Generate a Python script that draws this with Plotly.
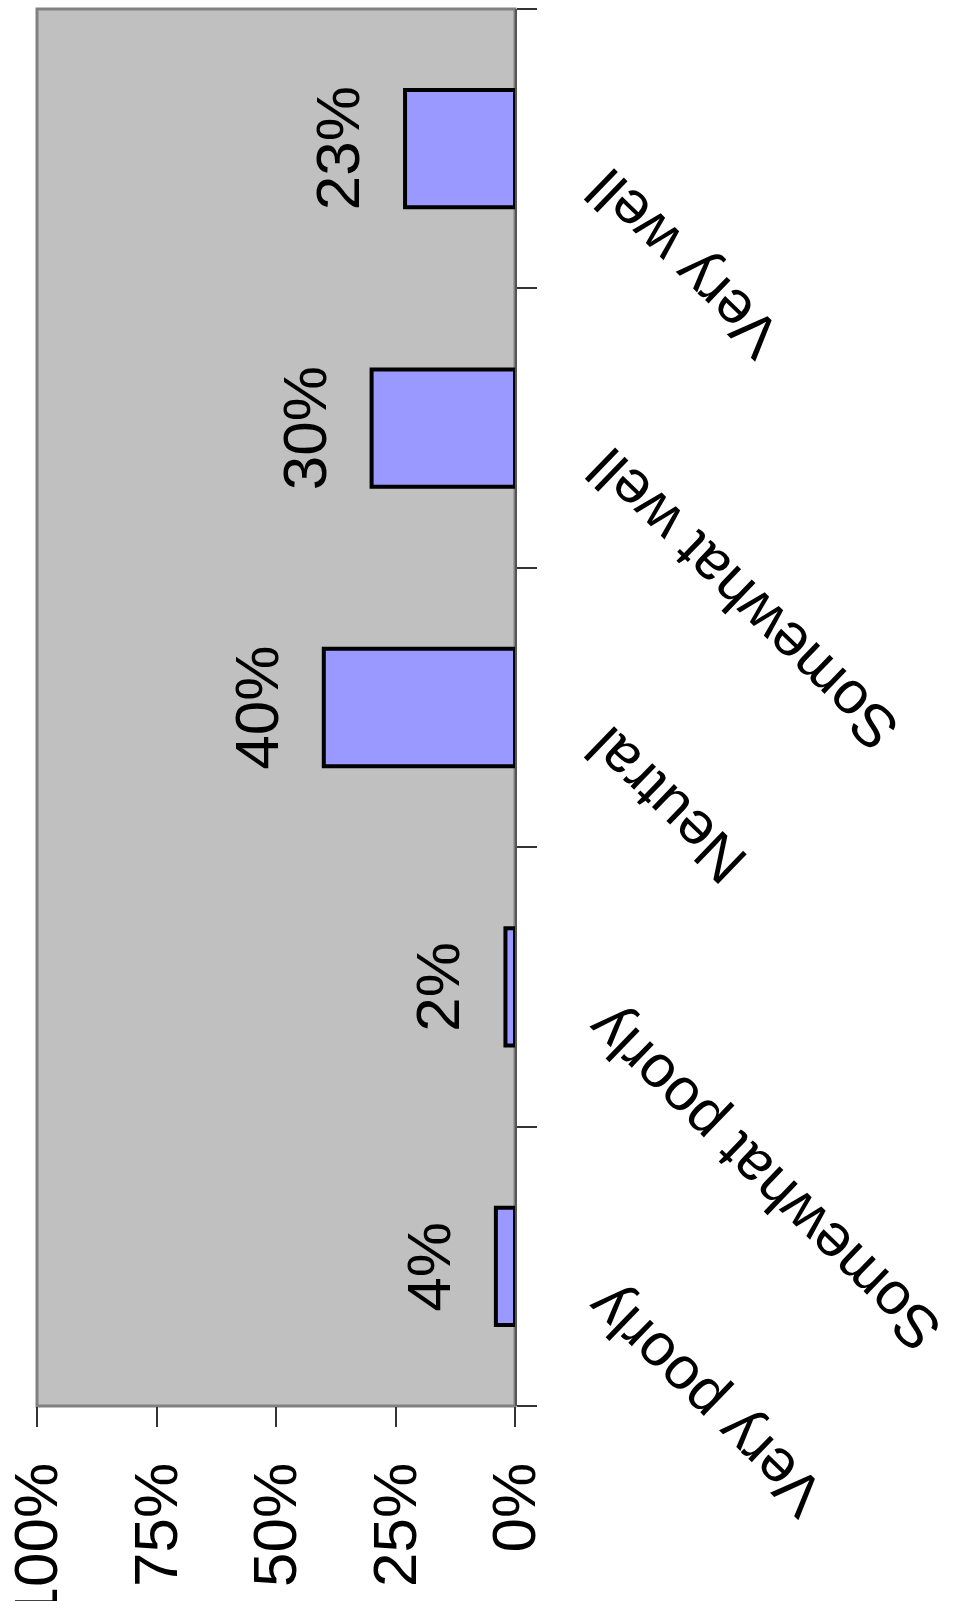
import plotly.graph_objects as go

# Survey responses: share of respondents per answer
categories = ["Very poorly", "Somewhat poorly", "Neutral", "Somewhat well", "Very well"]
shares = [0.04, 0.02, 0.40, 0.30, 0.23]
value_ticks = [0, 0.25, 0.5, 0.75, 1.0]
value_tick_labels = ["0%", "25%", "50%", "75%", "100%"]

FONT = "Liberation Sans, Arial, sans-serif"

fig = go.Figure()
fig.add_trace(go.Bar(
    x=shares,
    y=categories,
    orientation="h",
    width=0.42,
    marker=dict(color="#9999FF", line=dict(color="#000000", width=4)),
    hoverinfo="skip",
))

# value labels beside each bar, reading upward
for cat, v in zip(categories, shares):
    fig.add_annotation(
        x=v, y=cat, xref="x", yref="y",
        text=f"{round(v * 100)}%",
        textangle=-90,
        showarrow=False,
        xanchor="right", yanchor="middle",
        xshift=-31,
        font=dict(family=FONT, size=62, color="#000000"),
    )

# category labels, slanted outside the right-hand axis
for cat in categories:
    fig.add_annotation(
        x=1, y=cat, xref="paper", yref="y",
        text=cat,
        textangle=-136,
        showarrow=False,
        xanchor="left", yanchor="top",
        xshift=56, yshift=-4,
        font=dict(family=FONT, size=60, color="#000000"),
    )

# plot-area frame
fig.add_shape(
    type="rect", xref="paper", yref="paper", x0=0, x1=1, y0=0, y1=1,
    line=dict(color="#808080", width=3), fillcolor="rgba(0,0,0,0)", layer="below",
)

fig.update_layout(
    width=958, height=1601,
    margin=dict(l=37, r=443, t=9, b=195),
    paper_bgcolor="#FFFFFF",
    plot_bgcolor="#C0C0C0",
    showlegend=False,
    xaxis=dict(
        range=[1.0, 0.0],
        tickvals=value_ticks,
        ticktext=value_tick_labels,
        tickangle=-90,
        ticks="outside", ticklen=20, tickwidth=1.5, tickcolor="#333333",
        ticklabelstandoff=11,
        showgrid=False, zeroline=False, showline=False,
        tickfont=dict(family=FONT, size=62, color="#000000"),
        automargin=False,
        fixedrange=True,
    ),
    yaxis=dict(
        categoryorder="array", categoryarray=categories,
        range=[-0.5, len(categories) - 0.5],
        side="right",
        tickson="boundaries",
        ticks="outside", ticklen=20, tickwidth=1.5, tickcolor="#333333",
        showticklabels=False,
        showgrid=False, zeroline=False,
        showline=True, linecolor="#555555", linewidth=2,
        automargin=False,
        fixedrange=True,
    ),
)

fig.write_html("out.html")
